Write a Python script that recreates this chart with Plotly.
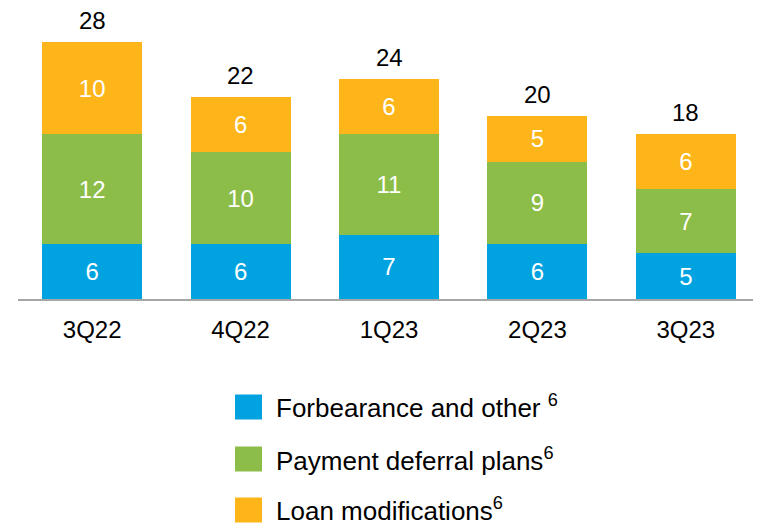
import plotly.graph_objects as go

quarters = ["3Q22", "4Q22", "1Q23", "2Q23", "3Q23"]
forbearance = [6, 6, 7, 6, 5]
payment_deferral = [12, 10, 11, 9, 7]
loan_mods = [10, 6, 6, 5, 6]
totals = [28, 22, 24, 20, 18]

series = [
    ("Forbearance and other <sup>6</sup>", forbearance, "#00A3E0"),
    ("Payment deferral plans<sup>6</sup>", payment_deferral, "#8CBD48"),
    ("Loan modifications<sup>6</sup>", loan_mods, "#FDB51A"),
]

FONT = "Arial, Liberation Sans, sans-serif"
FS = 24
fig = go.Figure()
for name, vals, col in series:
    fig.add_trace(go.Bar(
        x=quarters, y=vals, name=name, marker=dict(color=col, line=dict(width=0)),
        text=vals, textposition="inside", insidetextanchor="middle",
        textfont=dict(color="white", size=FS, family=FONT), showlegend=False,
        textangle=0,
    ))

for q, t in zip(quarters, totals):
    fig.add_annotation(x=q, y=t, text=str(t), showarrow=False, yanchor="bottom",
                       yshift=6, font=dict(size=FS, color="black", family=FONT))

# manual legend (plot area spans x 18..760, y 24..299 in page pixels)
leg_y = [407, 459, 510]
for (name, vals, col), yy in zip(series, leg_y):
    fig.add_shape(type="rect", xref="paper", yref="paper",
                  x0=(235 - 18) / 742, x1=(262 - 18) / 742,
                  y0=(299 - (yy + 12.5)) / 275, y1=(299 - (yy - 12.5)) / 275,
                  fillcolor=col, line=dict(width=0))
    fig.add_annotation(xref="paper", yref="paper", x=(274 - 18) / 742, y=(299 - yy) / 275,
                       text=name, showarrow=False, xanchor="left", yanchor="middle",
                       font=dict(size=26, color="black", family=FONT))

# page body has an 8px margin, so the figure is 8px smaller and offset
fig.update_layout(
    barmode="stack", bargap=0.326,
    width=753, height=518,
    margin=dict(l=10, r=1, t=16, b=227),
    plot_bgcolor="white", paper_bgcolor="white",
    font=dict(family=FONT, size=FS, color="black"),
    showlegend=False,
    uniformtext=dict(minsize=FS, mode="show"),
)
fig.update_xaxes(showline=True, linecolor="#A6A6A6", linewidth=1.5, ticks="",
                 ticklabelstandoff=8, tickfont=dict(size=FS, color="black", family=FONT),
                 showgrid=False, zeroline=False)
fig.update_yaxes(range=[0, 30], visible=False, showgrid=False, zeroline=False)

fig.write_html("out.html")
